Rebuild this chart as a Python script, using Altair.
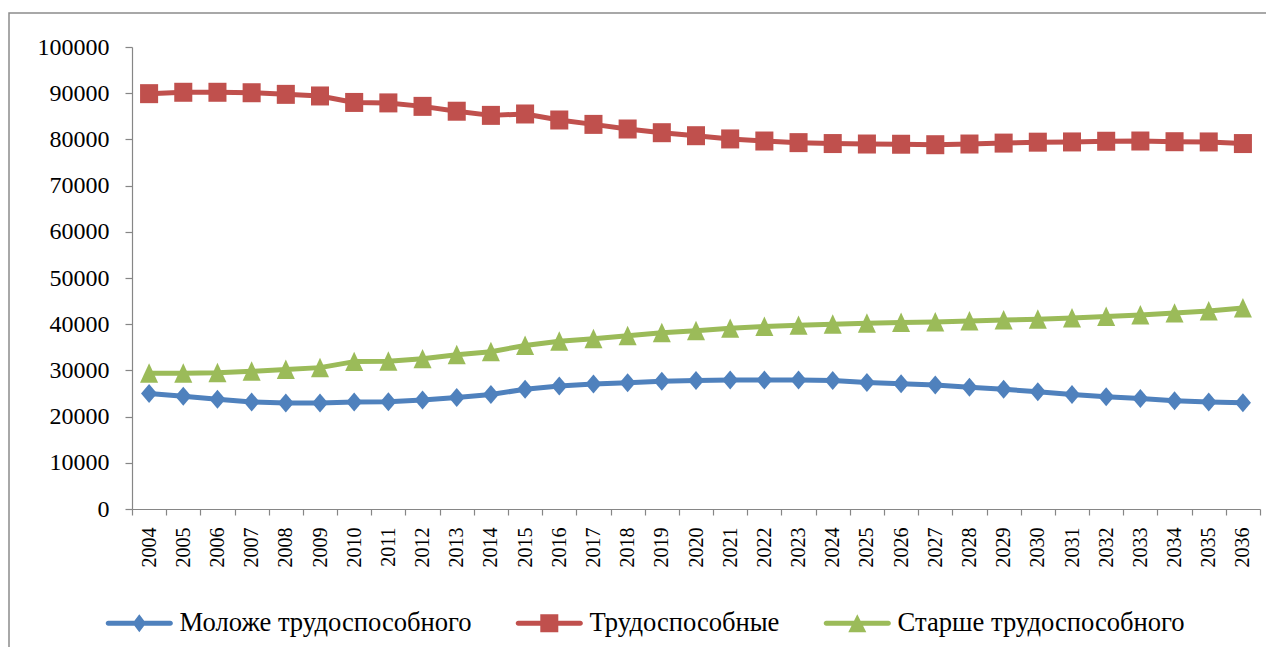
import altair as alt
import pandas as pd

years = [str(y) for y in range(2004, 2037)]
young = [25000, 24400, 23750, 23150, 22950, 22950, 23150, 23200, 23600, 24150, 24800,
         25900, 26600, 27050, 27350, 27650, 27800, 27900, 27900, 27900, 27800, 27400,
         27100, 26850, 26350, 25900, 25400, 24800, 24300, 23900, 23450, 23150, 23000]
working = [89900, 90200, 90200, 90100, 89750, 89400, 88000, 87900, 87150, 86100, 85200,
           85500, 84200, 83250, 82250, 81450, 80800, 80100, 79650, 79300, 79100, 79000,
           78950, 78850, 79000, 79200, 79400, 79450, 79600, 79650, 79500, 79450, 79100]
old = [29400, 29400, 29500, 29800, 30200, 30600, 31900, 32000, 32500, 33400, 34050,
       35400, 36300, 36850, 37500, 38150, 38600, 39100, 39500, 39750, 40000, 40200,
       40350, 40500, 40700, 40900, 41050, 41350, 41650, 42000, 42400, 42850, 43500]
series = ["Моложе трудоспособного", "Трудоспособные", "Старше трудоспособного"]
colors = ["#4F81BD", "#C0504D", "#9BBB59"]
y_ticks = list(range(0, 100001, 10000))

rows = []
for name, vals in zip(series, [young, working, old]):
    for yr, v in zip(years, vals):
        rows.append({"year": yr, "value": v, "series": name})
df = pd.DataFrame(rows)

plot_shapes = [
    "M0,-1 L0.85,0 L0,1 L-0.85,0 Z",
    "M-0.95,-1 L0.95,-1 L0.95,1 L-0.95,1 Z",
    "M0,-1.05 L0.95,1 L-0.95,1 Z",
]
bar = "M-3.45,-0.28 L3.45,-0.28 A0.28,0.28 0 0 1 3.45,0.28 L-3.45,0.28 A0.28,0.28 0 0 1 -3.45,-0.28 Z "
legend_shapes = [
    bar + "M0,-1 L0.75,0 L0,1 L-0.75,0 Z",
    bar + "M-1,-1 L1,-1 L1,1 L-1,1 Z",
    bar + "M0,-1 L1,1 L-1,1 Z",
]

FONT = "'Liberation Serif', 'Times New Roman', serif"

x_enc = alt.X(
    "year:O", sort=years,
    scale=alt.Scale(type="band", paddingInner=0, paddingOuter=0),
    axis=alt.Axis(title=None, labelAngle=-90, tickBand="extent", labelFontSize=20,
                  labelFont="Liberation Serif", labelColor="black",
                  tickSize=6, labelPadding=12, labelAlign="right", labelBaseline="middle"),
)
y_enc = alt.Y(
    "value:Q", scale=alt.Scale(domain=[0, 100000], nice=False),
    axis=alt.Axis(title=None, values=y_ticks, format="d", grid=False, labelFontSize=24,
                  labelFont='"Liberation Serif", serif', labelColor="black",
                  tickSize=7, labelPadding=16),
)

color_scale = alt.Scale(domain=series, range=colors)

base = alt.Chart(df)

lines = base.mark_line(strokeWidth=5, strokeJoin="round", strokeCap="round").encode(
    x=x_enc, y=y_enc,
    color=alt.Color("series:N", scale=color_scale, legend=None),
)

points = base.mark_point(filled=True, opacity=1, size=361, strokeWidth=0).encode(
    x=x_enc, y=y_enc,
    color=alt.Color("series:N", scale=color_scale, legend=None),
    shape=alt.Shape("series:N", scale=alt.Scale(domain=series, range=plot_shapes), legend=None),
)

legend_layer = base.transform_filter("false").mark_point(filled=True, opacity=1, strokeWidth=0).encode(
    color=alt.Color("series:N", scale=color_scale, legend=alt.Legend(title=None)),
    shape=alt.Shape("series:N", scale=alt.Scale(domain=series, range=legend_shapes),
                    legend=alt.Legend(title=None)),
)

border = alt.Chart(alt.Data(values=[{"a": 1}])).mark_rect(
    fillOpacity=0, stroke="#8c8c8c", strokeWidth=1.5
).encode(
    x=alt.value(-123), x2=alt.value(1300), y=alt.value(-34), y2=alt.value(800)
)

chart = alt.layer(border, lines, points, legend_layer).resolve_scale(
    color="independent", shape="independent"
).properties(
    width=1128, height=462,
    autosize=alt.AutoSizeParams(type="none"),
    padding={"left": 124, "top": 39, "right": 6, "bottom": 138},
).configure_view(stroke=None).configure_axis(
    domainColor="#868686", tickColor="#868686",
    domainWidth=1.2, tickWidth=1.2,
).configure_legend(
    orient="none", legendX=-6, legendY=563, direction="horizontal",
    labelFont=FONT, labelFontSize=26.6, labelColor="black", symbolSize=324,
    labelOffset=27, columnPadding=43, symbolStrokeWidth=0, labelLimit=400,
)

chart.save("out.html", embed_options={"renderer": "svg", "actions": False})
